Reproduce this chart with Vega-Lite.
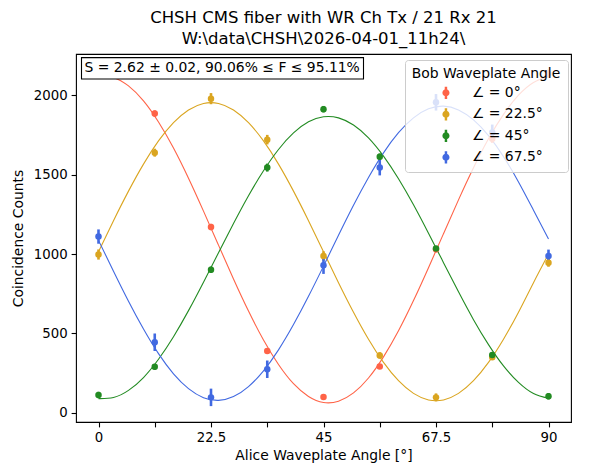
{
  "$schema": "https://vega.github.io/schema/vega-lite/v6.json",
  "autosize": "none",
  "padding": {"left": 76, "top": 54, "right": 43, "bottom": 51},
  "width": 495,
  "height": 368,
  "background": "white",
  "title": {
    "text": ["CHSH CMS fiber with WR Ch Tx / 21 Rx 21", "W:\\data\\CHSH\\2026-04-01_11h24\\"],
    "font": "DejaVu Sans",
    "fontSize": 16.5,
    "fontWeight": "normal",
    "color": "black",
    "anchor": "middle",
    "lineHeight": 21,
    "offset": 7
  },
  "datasets": {
    "pts": [
      {"angle": 0, "bob": "∠ = 0°", "counts": 2125, "err": 20},
      {"angle": 11.25, "bob": "∠ = 0°", "counts": 1884, "err": 20},
      {"angle": 22.5, "bob": "∠ = 0°", "counts": 1170, "err": 20},
      {"angle": 33.75, "bob": "∠ = 0°", "counts": 390, "err": 15},
      {"angle": 45, "bob": "∠ = 0°", "counts": 101, "err": 12},
      {"angle": 56.25, "bob": "∠ = 0°", "counts": 292, "err": 15},
      {"angle": 67.5, "bob": "∠ = 0°", "counts": 1030, "err": 20},
      {"angle": 78.75, "bob": "∠ = 0°", "counts": 1725, "err": 25},
      {"angle": 90, "bob": "∠ = 0°", "counts": 2135, "err": 25},
      {"angle": 0, "bob": "∠ = 22.5°", "counts": 997, "err": 32},
      {"angle": 11.25, "bob": "∠ = 22.5°", "counts": 1638, "err": 25},
      {"angle": 22.5, "bob": "∠ = 22.5°", "counts": 1978, "err": 35},
      {"angle": 33.75, "bob": "∠ = 22.5°", "counts": 1720, "err": 30},
      {"angle": 45, "bob": "∠ = 22.5°", "counts": 988, "err": 30},
      {"angle": 56.25, "bob": "∠ = 22.5°", "counts": 362, "err": 20},
      {"angle": 67.5, "bob": "∠ = 22.5°", "counts": 98, "err": 25},
      {"angle": 78.75, "bob": "∠ = 22.5°", "counts": 350, "err": 15},
      {"angle": 90, "bob": "∠ = 22.5°", "counts": 945, "err": 25},
      {"angle": 0, "bob": "∠ = 45°", "counts": 113, "err": 20},
      {"angle": 11.25, "bob": "∠ = 45°", "counts": 290, "err": 18},
      {"angle": 22.5, "bob": "∠ = 45°", "counts": 901, "err": 20},
      {"angle": 33.75, "bob": "∠ = 45°", "counts": 1544, "err": 25},
      {"angle": 45, "bob": "∠ = 45°", "counts": 1912, "err": 20},
      {"angle": 56.25, "bob": "∠ = 45°", "counts": 1613, "err": 20},
      {"angle": 67.5, "bob": "∠ = 45°", "counts": 1035, "err": 15},
      {"angle": 78.75, "bob": "∠ = 45°", "counts": 365, "err": 15},
      {"angle": 90, "bob": "∠ = 45°", "counts": 105, "err": 20},
      {"angle": 0, "bob": "∠ = 67.5°", "counts": 1110, "err": 45},
      {"angle": 11.25, "bob": "∠ = 67.5°", "counts": 445, "err": 55},
      {"angle": 22.5, "bob": "∠ = 67.5°", "counts": 98, "err": 55},
      {"angle": 33.75, "bob": "∠ = 67.5°", "counts": 275, "err": 55},
      {"angle": 45, "bob": "∠ = 67.5°", "counts": 930, "err": 55},
      {"angle": 56.25, "bob": "∠ = 67.5°", "counts": 1545, "err": 50},
      {"angle": 67.5, "bob": "∠ = 67.5°", "counts": 1955, "err": 52},
      {"angle": 78.75, "bob": "∠ = 67.5°", "counts": 1765, "err": 50},
      {"angle": 90, "bob": "∠ = 67.5°", "counts": 988, "err": 40}
    ],
    "fit": [
      {"angle": 0, "bob": "∠ = 0°", "counts": 2118},
      {"angle": 3, "bob": "∠ = 0°", "counts": 2110},
      {"angle": 6, "bob": "∠ = 0°", "counts": 2058},
      {"angle": 9, "bob": "∠ = 0°", "counts": 1964},
      {"angle": 12, "bob": "∠ = 0°", "counts": 1831},
      {"angle": 15, "bob": "∠ = 0°", "counts": 1667},
      {"angle": 18, "bob": "∠ = 0°", "counts": 1477},
      {"angle": 21, "bob": "∠ = 0°", "counts": 1270},
      {"angle": 24, "bob": "∠ = 0°", "counts": 1056},
      {"angle": 27, "bob": "∠ = 0°", "counts": 843},
      {"angle": 30, "bob": "∠ = 0°", "counts": 641},
      {"angle": 33, "bob": "∠ = 0°", "counts": 459},
      {"angle": 36, "bob": "∠ = 0°", "counts": 305},
      {"angle": 39, "bob": "∠ = 0°", "counts": 184},
      {"angle": 42, "bob": "∠ = 0°", "counts": 104},
      {"angle": 45, "bob": "∠ = 0°", "counts": 66},
      {"angle": 48, "bob": "∠ = 0°", "counts": 74},
      {"angle": 51, "bob": "∠ = 0°", "counts": 126},
      {"angle": 54, "bob": "∠ = 0°", "counts": 220},
      {"angle": 57, "bob": "∠ = 0°", "counts": 353},
      {"angle": 60, "bob": "∠ = 0°", "counts": 517},
      {"angle": 63, "bob": "∠ = 0°", "counts": 707},
      {"angle": 66, "bob": "∠ = 0°", "counts": 914},
      {"angle": 69, "bob": "∠ = 0°", "counts": 1128},
      {"angle": 72, "bob": "∠ = 0°", "counts": 1341},
      {"angle": 75, "bob": "∠ = 0°", "counts": 1543},
      {"angle": 78, "bob": "∠ = 0°", "counts": 1725},
      {"angle": 81, "bob": "∠ = 0°", "counts": 1879},
      {"angle": 84, "bob": "∠ = 0°", "counts": 2000},
      {"angle": 87, "bob": "∠ = 0°", "counts": 2080},
      {"angle": 90, "bob": "∠ = 0°", "counts": 2118},
      {"angle": 0, "bob": "∠ = 22.5°", "counts": 1015},
      {"angle": 3, "bob": "∠ = 22.5°", "counts": 1210},
      {"angle": 6, "bob": "∠ = 22.5°", "counts": 1396},
      {"angle": 9, "bob": "∠ = 22.5°", "counts": 1566},
      {"angle": 12, "bob": "∠ = 22.5°", "counts": 1712},
      {"angle": 15, "bob": "∠ = 22.5°", "counts": 1827},
      {"angle": 18, "bob": "∠ = 22.5°", "counts": 1907},
      {"angle": 21, "bob": "∠ = 22.5°", "counts": 1948},
      {"angle": 24, "bob": "∠ = 22.5°", "counts": 1948},
      {"angle": 27, "bob": "∠ = 22.5°", "counts": 1907},
      {"angle": 30, "bob": "∠ = 22.5°", "counts": 1827},
      {"angle": 33, "bob": "∠ = 22.5°", "counts": 1712},
      {"angle": 36, "bob": "∠ = 22.5°", "counts": 1566},
      {"angle": 39, "bob": "∠ = 22.5°", "counts": 1396},
      {"angle": 42, "bob": "∠ = 22.5°", "counts": 1210},
      {"angle": 45, "bob": "∠ = 22.5°", "counts": 1015},
      {"angle": 48, "bob": "∠ = 22.5°", "counts": 820},
      {"angle": 51, "bob": "∠ = 22.5°", "counts": 634},
      {"angle": 54, "bob": "∠ = 22.5°", "counts": 464},
      {"angle": 57, "bob": "∠ = 22.5°", "counts": 318},
      {"angle": 60, "bob": "∠ = 22.5°", "counts": 203},
      {"angle": 63, "bob": "∠ = 22.5°", "counts": 123},
      {"angle": 66, "bob": "∠ = 22.5°", "counts": 82},
      {"angle": 69, "bob": "∠ = 22.5°", "counts": 82},
      {"angle": 72, "bob": "∠ = 22.5°", "counts": 123},
      {"angle": 75, "bob": "∠ = 22.5°", "counts": 203},
      {"angle": 78, "bob": "∠ = 22.5°", "counts": 318},
      {"angle": 81, "bob": "∠ = 22.5°", "counts": 464},
      {"angle": 84, "bob": "∠ = 22.5°", "counts": 634},
      {"angle": 87, "bob": "∠ = 22.5°", "counts": 820},
      {"angle": 90, "bob": "∠ = 22.5°", "counts": 1000},
      {"angle": 0, "bob": "∠ = 45°", "counts": 90},
      {"angle": 3, "bob": "∠ = 45°", "counts": 97},
      {"angle": 6, "bob": "∠ = 45°", "counts": 142},
      {"angle": 9, "bob": "∠ = 45°", "counts": 223},
      {"angle": 12, "bob": "∠ = 45°", "counts": 338},
      {"angle": 15, "bob": "∠ = 45°", "counts": 480},
      {"angle": 18, "bob": "∠ = 45°", "counts": 644},
      {"angle": 21, "bob": "∠ = 45°", "counts": 823},
      {"angle": 24, "bob": "∠ = 45°", "counts": 1008},
      {"angle": 27, "bob": "∠ = 45°", "counts": 1192},
      {"angle": 30, "bob": "∠ = 45°", "counts": 1367},
      {"angle": 33, "bob": "∠ = 45°", "counts": 1524},
      {"angle": 36, "bob": "∠ = 45°", "counts": 1658},
      {"angle": 39, "bob": "∠ = 45°", "counts": 1762},
      {"angle": 42, "bob": "∠ = 45°", "counts": 1832},
      {"angle": 45, "bob": "∠ = 45°", "counts": 1864},
      {"angle": 48, "bob": "∠ = 45°", "counts": 1857},
      {"angle": 51, "bob": "∠ = 45°", "counts": 1812},
      {"angle": 54, "bob": "∠ = 45°", "counts": 1731},
      {"angle": 57, "bob": "∠ = 45°", "counts": 1616},
      {"angle": 60, "bob": "∠ = 45°", "counts": 1474},
      {"angle": 63, "bob": "∠ = 45°", "counts": 1310},
      {"angle": 66, "bob": "∠ = 45°", "counts": 1131},
      {"angle": 69, "bob": "∠ = 45°", "counts": 946},
      {"angle": 72, "bob": "∠ = 45°", "counts": 762},
      {"angle": 75, "bob": "∠ = 45°", "counts": 587},
      {"angle": 78, "bob": "∠ = 45°", "counts": 430},
      {"angle": 81, "bob": "∠ = 45°", "counts": 296},
      {"angle": 84, "bob": "∠ = 45°", "counts": 192},
      {"angle": 87, "bob": "∠ = 45°", "counts": 122},
      {"angle": 90, "bob": "∠ = 45°", "counts": 92},
      {"angle": 0, "bob": "∠ = 67.5°", "counts": 1086},
      {"angle": 3, "bob": "∠ = 67.5°", "counts": 892},
      {"angle": 6, "bob": "∠ = 67.5°", "counts": 703},
      {"angle": 9, "bob": "∠ = 67.5°", "counts": 528},
      {"angle": 12, "bob": "∠ = 67.5°", "counts": 373},
      {"angle": 15, "bob": "∠ = 67.5°", "counts": 246},
      {"angle": 18, "bob": "∠ = 67.5°", "counts": 153},
      {"angle": 21, "bob": "∠ = 67.5°", "counts": 96},
      {"angle": 24, "bob": "∠ = 67.5°", "counts": 79},
      {"angle": 27, "bob": "∠ = 67.5°", "counts": 103},
      {"angle": 30, "bob": "∠ = 67.5°", "counts": 166},
      {"angle": 33, "bob": "∠ = 67.5°", "counts": 265},
      {"angle": 36, "bob": "∠ = 67.5°", "counts": 397},
      {"angle": 39, "bob": "∠ = 67.5°", "counts": 556},
      {"angle": 42, "bob": "∠ = 67.5°", "counts": 734},
      {"angle": 45, "bob": "∠ = 67.5°", "counts": 924},
      {"angle": 48, "bob": "∠ = 67.5°", "counts": 1118},
      {"angle": 51, "bob": "∠ = 67.5°", "counts": 1307},
      {"angle": 54, "bob": "∠ = 67.5°", "counts": 1482},
      {"angle": 57, "bob": "∠ = 67.5°", "counts": 1637},
      {"angle": 60, "bob": "∠ = 67.5°", "counts": 1764},
      {"angle": 63, "bob": "∠ = 67.5°", "counts": 1857},
      {"angle": 66, "bob": "∠ = 67.5°", "counts": 1914},
      {"angle": 69, "bob": "∠ = 67.5°", "counts": 1931},
      {"angle": 72, "bob": "∠ = 67.5°", "counts": 1907},
      {"angle": 75, "bob": "∠ = 67.5°", "counts": 1844},
      {"angle": 78, "bob": "∠ = 67.5°", "counts": 1745},
      {"angle": 81, "bob": "∠ = 67.5°", "counts": 1613},
      {"angle": 84, "bob": "∠ = 67.5°", "counts": 1454},
      {"angle": 87, "bob": "∠ = 67.5°", "counts": 1276},
      {"angle": 90, "bob": "∠ = 67.5°", "counts": 1095}
    ],
    "note": [
      {"label": "S = 2.62 ± 0.02, 90.06% ≤ F ≤ 95.11%"}
    ]
  },
  "layer": [
    {
      "data": {"name": "fit"},
      "mark": {"type": "line", "strokeWidth": 1.1, "interpolate": "natural"},
      "encoding": {
        "x": {"field": "angle", "type": "quantitative", "title": "Alice Waveplate Angle [°]"},
        "y": {"field": "counts", "type": "quantitative", "title": "Coincidence Counts"},
        "detail": {"field": "bob", "type": "nominal"},
        "color": {
          "field": "bob", "type": "nominal",
          "scale": {"domain": ["∠ = 0°", "∠ = 22.5°", "∠ = 45°", "∠ = 67.5°"], "range": ["#ff6347", "#daa520", "#228b22", "#4169e1"]}
        }
      }
    },
    {
      "data": {"name": "pts"},
      "mark": {"type": "errorbar", "thickness": 2.6, "ticks": false},
      "encoding": {
        "x": {"field": "angle", "type": "quantitative", "title": "Alice Waveplate Angle [°]"},
        "y": {"field": "counts", "type": "quantitative", "title": "Coincidence Counts"},
        "yError": {"field": "err"},
        "color": {"field": "bob", "type": "nominal"}
      }
    },
    {
      "data": {"name": "pts"},
      "mark": {"type": "point", "filled": true, "size": 42, "opacity": 1},
      "encoding": {
        "x": {
          "field": "angle", "type": "quantitative",
          "title": "Alice Waveplate Angle [°]",
          "scale": {"domain": [-4.5, 94.5], "nice": false, "zero": false},
          "axis": {
            "values": [0, 11.25, 22.5, 33.75, 45, 56.25, 67.5, 78.75, 90],
            "labelExpr": "datum.value % 22.5 === 0 ? toString(datum.value) : ''",
            "labelFlush": false,
            "titlePadding": 4
          }
        },
        "y": {
          "field": "counts", "type": "quantitative",
          "title": "Coincidence Counts",
          "scale": {"domain": [-57, 2259], "nice": false, "zero": false},
          "axis": {
            "values": [0, 500, 1000, 1500, 2000],
            "format": "d",
            "titlePadding": 8
          }
        },
        "color": {
          "field": "bob", "type": "nominal",
          "legend": {
            "title": "Bob Waveplate Angle",
            "orient": "none",
            "legendX": 329,
            "legendY": 6,
            "symbolType": "M-0.2,-1L0.2,-1L0.2,1L-0.2,1Z M-0.58,0A0.58,0.58 0 1,1 0.58,0A0.58,0.58 0 1,1 -0.58,0Z",
            "symbolSize": 150,
            "symbolStrokeWidth": 0,
            "symbolOffset": 10,
            "labelOffset": 19,
            "rowPadding": 6.5,
            "encode": {
              "symbols": {"update": {"fill": {"scale": "color", "field": "value"}, "opacity": {"value": 1}}}
            }
          }
        }
      }
    },
    {
      "data": {"name": "note"},
      "mark": {"type": "rect", "fill": "white", "stroke": "black", "strokeWidth": 1.1},
      "encoding": {
        "x": {"datum": -3.4},
        "x2": {"datum": 53},
        "y": {"datum": 2236},
        "y2": {"datum": 2102}
      }
    },
    {
      "data": {"name": "note"},
      "mark": {"type": "text", "align": "left", "baseline": "middle", "font": "DejaVu Sans", "fontSize": 13.9, "color": "black"},
      "encoding": {
        "x": {"datum": -2.8},
        "y": {"datum": 2170},
        "text": {"field": "label"}
      }
    }
  ],
  "config": {
    "view": {"stroke": "black", "strokeWidth": 1.1},
    "axis": {
      "grid": false,
      "domain": false,
      "tickColor": "black",
      "tickSize": 4.9,
      "tickWidth": 1.1,
      "labelColor": "black",
      "labelFont": "DejaVu Sans",
      "labelFontSize": 13.3,
      "labelPadding": 4,
      "titleColor": "black",
      "titleFont": "DejaVu Sans",
      "titleFontSize": 13.9,
      "titleFontWeight": "normal"
    },
    "legend": {
      "fillColor": "rgba(255,255,255,0.8)",
      "strokeColor": "#cccccc",
      "cornerRadius": 3,
      "padding": 7,
      "titleFont": "DejaVu Sans",
      "titleFontSize": 13.9,
      "titleFontWeight": "normal",
      "titleColor": "black",
      "titleAnchor": "middle",
      "titlePadding": 5,
      "labelFont": "DejaVu Sans",
      "labelFontSize": 13.9,
      "labelColor": "black"
    }
  }
}
